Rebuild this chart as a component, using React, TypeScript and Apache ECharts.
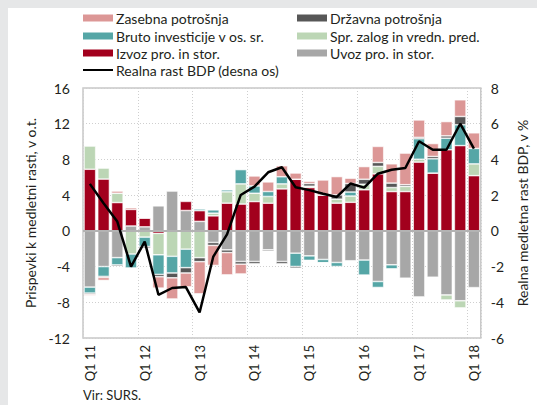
import React, { useEffect, useRef } from "react";
import * as echarts from "echarts";

const categories = [
  "Q1 11", "Q2 11", "Q3 11", "Q4 11",
  "Q1 12", "Q2 12", "Q3 12", "Q4 12",
  "Q1 13", "Q2 13", "Q3 13", "Q4 13",
  "Q1 14", "Q2 14", "Q3 14", "Q4 14",
  "Q1 15", "Q2 15", "Q3 15", "Q4 15",
  "Q1 16", "Q2 16", "Q3 16", "Q4 16",
  "Q1 17", "Q2 17", "Q3 17", "Q4 17",
  "Q1 18",
];

const uvoz = [-6.3, -4.0, -3.0, 0.55, 0.45, 2.8, 4.48, 2.28, 1.06, -1.3, -2.13, -3.43, -3.43, -2.13, -3.43, -2.5, -2.8, -3.2, -3.54, -3.35, -3.27, -5.67, -3.8, -5.3, -7.4, -5.19, -7.18, -7.83, -6.36];
const izvoz = [6.9, 5.8, 3.17, 1.85, 0.97, -0.28, 0, 1.02, 1.2, 1.68, 3.1, 3.0, 3.28, 3.1, 4.7, 5.78, 4.85, 4.0, 3.1, 3.2, 4.6, 6.38, 4.4, 4.4, 7.7, 6.47, 9.08, 9.55, 6.18];
const zalog = [2.6, 1.23, 1.04, -2.6, -0.7, -2.4, -2.85, -2.05, -3.0, 0.3, 1.27, 2.26, 0.93, 0.75, 0.56, 0, 0.15, 0, 0.45, 0.7, 0.62, 0.84, 0.45, 0.58, 0.32, 0, -0.56, -0.8, 1.32];
const investicije = [-0.67, -1.1, -0.82, -1.57, -1.05, -2.2, -1.87, -2.07, 0.19, 0.37, 0.22, 1.6, 0.82, 0.56, 0.8, -1.49, -0.5, -0.37, -0.45, 0.45, -1.68, -0.67, -0.45, 0, 2.3, 1.6, 1.3, 2.33, 1.73];
const drzavna = [-0.15, -0.12, -0.15, -0.05, -0.18, -0.26, -0.54, -0.6, -0.45, -0.33, -0.3, -0.3, -0.26, -0.15, -0.26, -0.19, 0.3, 0, 0.48, 0.95, 0.56, 0.44, 0.5, 0.19, 0.15, 0.26, 0.26, 0.93, 0];
const zasebna = [-0.12, -0.33, 0.25, 0.2, 0.07, -1.27, -2.37, -1.55, -3.6, -2.24, -2.5, -1.1, 1.12, 1.08, 1.23, 0.7, 0.25, 1.7, 2.05, 0.6, 1.42, 1.8, 2.16, 3.54, 1.95, 1.45, 1.6, 1.87, 1.75];
const bdp = [2.63, 1.55, 0.52, -2.0, -0.6, -3.58, -3.2, -3.15, -4.57, -1.44, -0.2, 2.01, 2.48, 3.28, 3.56, 2.44, 2.28, 2.08, 1.9, 2.65, 2.42, 3.2, 3.42, 3.52, 5.02, 4.54, 4.54, 6.0, 4.6];

const leftTicks = { min: -12, max: 16, interval: 4 };
const rightTicks = { min: -6, max: 8, interval: 2 };

const NAMES = {
  zas: "Zasebna potrošnja",
  drz: "Državna potrošnja",
  inv: "Bruto investicije v os. sr.",
  zal: "Spr. zalog in vredn. pred.",
  izv: "Izvoz pro. in stor.",
  uvo: "Uvoz pro. in stor.",
  bdp: "Realna rast BDP (desna os)",
};

const COLORS = {
  zas: "#dc9796",
  drz: "#575757",
  inv: "#55a6a6",
  zal: "#bcd6b5",
  izv: "#a2001d",
  uvo: "#a7a7a7",
  bdp: "#000000",
};

const FONT = "Lato";
const TXT = "#231f20";

export default function App() {
  const ref = useRef<HTMLDivElement>(null);
  useEffect(() => {
    if (!ref.current) return;
    const chart = echarts.init(ref.current, null, { renderer: "svg" });
    const mkLegend = (key: string, left: number, top: number, isLine = false) => ({
      data: [NAMES[key as keyof typeof NAMES]],
      left,
      top,
      orient: "vertical",
      padding: 0,
      itemWidth: 30,
      itemHeight: isLine ? 2 : 7,
      icon: "rect",
      selectedMode: false,
      itemStyle: { borderWidth: 0 },
      textStyle: { fontFamily: FONT, fontSize: 14, color: TXT, padding: [0, 0, 0, -2] },
    });
    const bar = (key: string, data: number[]) => ({
      name: NAMES[key as keyof typeof NAMES],
      type: "bar",
      stack: "s",
      data,
      barWidth: "85%",
      itemStyle: { color: COLORS[key as keyof typeof COLORS], borderColor: "#ffffff", borderWidth: 0.6 },
    });
    const option: any = {
      animation: false,
      backgroundColor: "#ffffff",
      textStyle: { fontFamily: FONT },
      legend: [
        mkLegend("zas", 75, 3),
        mkLegend("inv", 75, 21),
        mkLegend("izv", 75, 38),
        mkLegend("bdp", 75, 55, true),
        mkLegend("drz", 289, 3),
        mkLegend("zal", 289, 21),
        mkLegend("uvo", 289, 38),
      ],
      grid: {
        left: 75,
        right: 56,
        top: 80,
        bottom: 67,
        show: true,
        borderColor: "#c8c8c8",
        borderWidth: 1.5,
        backgroundColor: "transparent",
      },
      xAxis: {
        type: "category",
        data: categories,
        boundaryGap: true,
        axisLine: { show: false, onZero: false },
        axisTick: { show: false },
        axisLabel: {
          interval: 3,
          rotate: 90,
          margin: 7,
          fontFamily: FONT,
          fontSize: 13,
          color: TXT,
        },
        splitLine: {
          show: true,
          interval: 3,
          lineStyle: { color: "#cfcfcf", type: [1, 2], width: 1 },
        },
      },
      yAxis: [
        {
          type: "value",
          ...leftTicks,
          name: "Prispevki k medletni rasti, v o.t.",
          nameLocation: "middle",
          nameRotate: 90,
          nameGap: 36,
          nameTextStyle: { fontFamily: FONT, fontSize: 14, color: TXT },
          axisLine: { show: false },
          axisTick: { show: false },
          axisLabel: { margin: 13, fontFamily: FONT, fontSize: 14, color: TXT },
          splitLine: { show: true, lineStyle: { color: "#cfcfcf", type: [1, 2], width: 1 } },
        },
        {
          type: "value",
          ...rightTicks,
          position: "right",
          name: "Realna medletna rast BDP, v %",
          nameLocation: "middle",
          nameRotate: 90,
          nameGap: 34,
          nameTextStyle: { fontFamily: FONT, fontSize: 14, color: TXT },
          axisLine: { show: false },
          axisTick: { show: false },
          axisLabel: { margin: 10, fontFamily: FONT, fontSize: 14, color: TXT },
          splitLine: { show: false },
        },
      ],
      series: [
        {
          ...bar("uvo", uvoz),
          markLine: {
            silent: true,
            symbol: ["none", "none"],
            label: { show: false },
            lineStyle: { color: "#b3b3b3", width: 2, type: "solid" },
            data: [{ yAxis: 0 }],
          },
        },
        bar("izv", izvoz),
        bar("zal", zalog),
        bar("inv", investicije),
        bar("drz", drzavna),
        bar("zas", zasebna),
        {
          name: NAMES.bdp,
          type: "line",
          yAxisIndex: 1,
          data: bdp,
          symbol: "none",
          z: 10,
          lineStyle: { color: "#000000", width: 2.5 },
          itemStyle: { color: "#000000" },
        },
      ],
      graphic: [
        {
          type: "text",
          left: 75,
          top: 380,
          style: { text: "Vir: SURS.", fontFamily: FONT, fontSize: 13, fill: TXT },
        },
      ],
    };
    chart.setOption(option);
    return () => chart.dispose();
  }, []);
  return (
    <div style={{ position: "fixed", left: 0, top: 0, width: 537, height: 405, background: "#e6e7e8" }}>
      <div ref={ref} style={{ position: "absolute", left: 8, top: 8, width: 529, height: 397 }} />
    </div>
  );
}
